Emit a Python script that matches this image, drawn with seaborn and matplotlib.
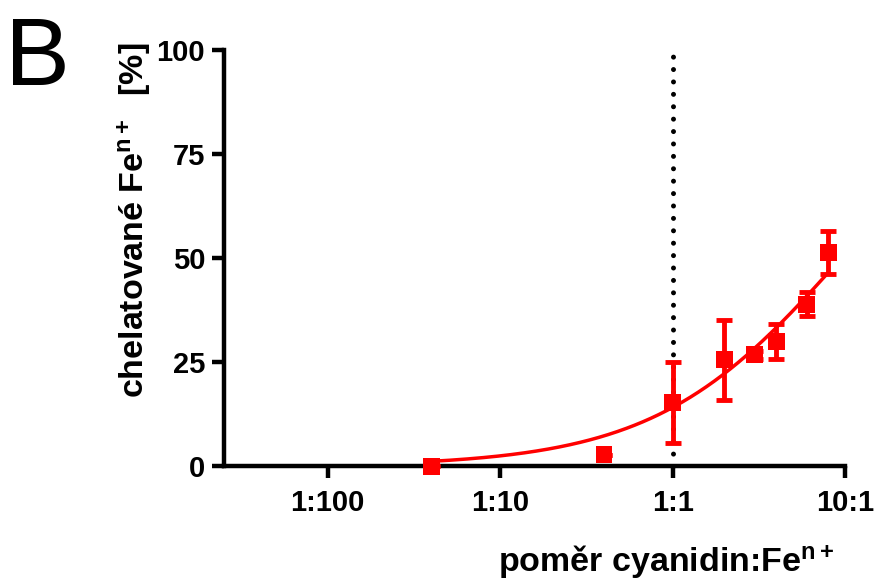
import numpy as np
import pandas as pd
import matplotlib
matplotlib.use("Agg")
import matplotlib.pyplot as plt
import seaborn as sns

# cyanidin : Fe ratio (molar) and chelated iron (%)
ratio = [0.04, 0.4, 1.0, 2.0, 3.0, 4.0, 6.0, 8.0]
chelated = [0.0, 2.8, 15.4, 25.6, 26.8, 30.0, 39.0, 51.4]
chelated_sd = [0.0, 0.0, 9.8, 9.6, 1.0, 4.2, 2.8, 5.1]

# fitted Hill curve parameters
FIT_TOP = 100.0
FIT_K = 9.5
FIT_HILL = 0.8

x_ticks = [0.01, 0.1, 1, 10]
x_tick_labels = ["1:100", "1:10", "1:1", "10:1"]
y_ticks = [0, 25, 50, 75, 100]

RED = "#ff0000"

sns.set_theme(style="ticks")
plt.rcParams["font.family"] = ["Liberation Sans", "DejaVu Sans"]
plt.rcParams["mathtext.fontset"] = "custom"
plt.rcParams["mathtext.rm"] = "Liberation Sans:bold"
plt.rcParams["mathtext.it"] = "Liberation Sans:bold"
plt.rcParams["mathtext.bf"] = "Liberation Sans:bold"
plt.rcParams["mathtext.default"] = "rm"

df = pd.DataFrame({"ratio": ratio, "chelated": chelated, "sd": chelated_sd})

xs = np.geomspace(min(ratio), max(ratio), 300)
fit = pd.DataFrame({
    "ratio": xs,
    "chelated": FIT_TOP * xs**FIT_HILL / (FIT_K**FIT_HILL + xs**FIT_HILL),
})

fig = plt.figure(figsize=(8.75, 5.8), dpi=100)
ax = fig.add_axes([0.256, 0.1957, 0.7097, 0.7181])

# dotted reference line at equimolar ratio
ax.plot([1, 1], [0, 100], color="black", lw=3.6,
        linestyle=(0, (0.001, 2.48)), dash_capstyle="round",
        solid_capstyle="round", zorder=2, clip_on=False)

sns.lineplot(data=fit, x="ratio", y="chelated", ax=ax, color=RED,
             lw=2.5, zorder=3)

ax.errorbar(df["ratio"], df["chelated"], yerr=df["sd"], fmt="none",
            ecolor=RED, elinewidth=3.5, capsize=6.1, capthick=3.5,
            zorder=4, clip_on=False)

sns.scatterplot(data=df, x="ratio", y="chelated", ax=ax, marker="s",
                s=12.2**2, color=RED, edgecolor="none", linewidth=0,
                zorder=5, clip_on=False)

ax.set_xscale("log")
ax.set_xlim(0.0025, 10)
ax.set_ylim(0, 100)
ax.set_xticks(x_ticks)
ax.set_xticklabels(x_tick_labels)
ax.xaxis.set_minor_locator(matplotlib.ticker.NullLocator())
ax.set_yticks(y_ticks)
ax.set_xlabel("")
ax.set_ylabel("")

for side in ("top", "right"):
    ax.spines[side].set_visible(False)
for side in ("left", "bottom"):
    ax.spines[side].set_linewidth(3.2)
    ax.spines[side].set_color("black")

ax.tick_params(axis="both", which="major", length=8.6, width=3.2,
               color="black", labelsize=21, direction="out")
ax.tick_params(axis="y", pad=5)
ax.tick_params(axis="x", pad=7.5)
for lab in ax.get_xticklabels() + ax.get_yticklabels():
    lab.set_fontweight("bold")
    lab.set_color("black")

fig.text(0.175, 0.621, r"chelatované Fe$^{\mathbf{n+}}$  [%]", rotation=90,
         ha="right", va="center", fontsize=24.5, fontweight="bold",
         color="black")
fig.text(0.953, 0.0138, r"poměr cyanidin:Fe$^{\mathbf{n+}}$", ha="right",
         va="baseline", fontsize=24.5, fontweight="bold", color="black")
fig.text(0.006, 0.853, "B", ha="left", va="baseline", fontsize=70,
         fontweight="normal", color="black")

fig.savefig("out.png", dpi=100)
